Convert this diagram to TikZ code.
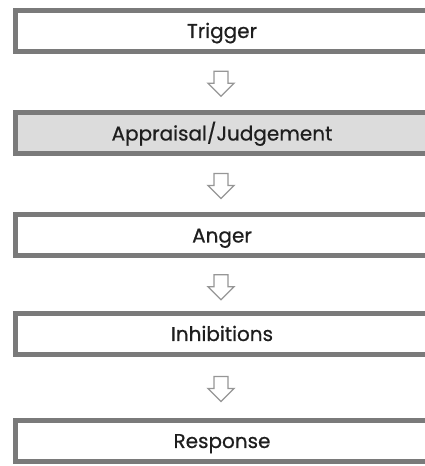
\documentclass[tikz,border=0pt]{standalone}
\usepackage{fontspec}
\setmainfont{Poppins}[FakeBold=0.6]
\usepackage{tikz}
\usetikzlibrary{shapes.arrows,positioning,calc}
\definecolor{rimgray}{RGB}{122,122,122}
\definecolor{flowgray}{RGB}{150,150,150}
\definecolor{judgefill}{RGB}{220,220,220}
\definecolor{inkdark}{RGB}{30,30,30}

\begin{document}
\begin{tikzpicture}[
  x=1pt, y=1pt, font=\fontsize{20}{22}\selectfont,
  stage/.style={rectangle, draw=rimgray, line width=5pt, fill=white, text=inkdark,
                minimum width=413pt, minimum height=41pt, inner sep=0pt,
                text height=14pt, text depth=0pt},
  flow/.style={single arrow, rotate=-90, draw=flowgray, line width=1.4pt,
               fill=white, minimum height=25pt, inner xsep=0pt, inner ysep=6.3pt,
               single arrow head extend=6pt}]

  \clip (0,0) rectangle (425,466);

  % ---------- stages ----------
  \node[stage] (trig) at (222,435) {Trigger};
  \node[stage,fill=judgefill] (appr) at (222,332.5) {Appraisal/Judgement};
  \node[stage] (ang)  at (222,230.5) {Anger};
  \node[stage] (inh)  at (222,132) {Inhibitions};
  \node[stage] (resp) at (222,25) {Response};

  % ---------- hollow arrows between stages ----------
  \node[flow] (a1) at ($(trig.south)!0.5!(appr.north)+(-1,2)$) {};
  \node[flow] (a2) at ($(appr.south)!0.5!(ang.north)+(-1,2)$) {};
  \node[flow] (a3) at ($(ang.south)!0.5!(inh.north)+(-1,1)$) {};
  \node[flow] (a4) at ($(inh.south)!0.5!(resp.north)+(-1,2)$) {};

\end{tikzpicture}
\end{document}
